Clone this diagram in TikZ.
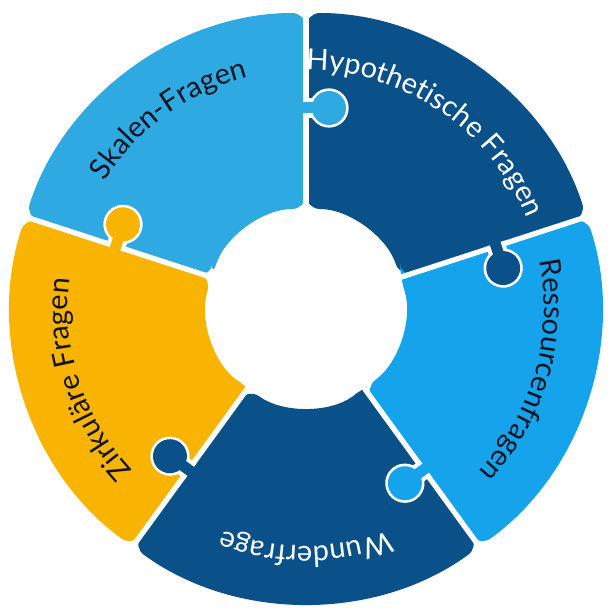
\documentclass[tikz,border=0pt]{standalone}
\usepackage{fontspec}
\setmainfont{Lato}
\usetikzlibrary{decorations.text}
\definecolor{lb}{HTML}{2FA9E2}
\definecolor{db}{HTML}{0B5189}
\definecolor{rb}{HTML}{15A4EB}
\definecolor{og}{HTML}{F8B400}
\definecolor{tx}{HTML}{111522}
\tikzset{gap/.style={white,line width=3pt}}
\newcommand{\seg}[3]{% start, end, colour
  \fill[#3,rounded corners=8pt] (#1:99) -- (#1:295) arc[start angle=#1,end angle=#2,radius=295] -- (#2:99) arc[start angle=#2,end angle=#1,radius=99] -- cycle;}
\newcommand{\knob}[2]{% boundary angle, colour
  \begin{scope}[rotate=#1]
   \draw[gap,fill=#2] (200,-23) circle[radius=17];
   \draw[gap,fill=#2] (193,0) rectangle (207,-12);
   \fill[#2] (200,-23) circle[radius=17];
   \fill[#2] (194.5,5) rectangle (205.5,-12);
  \end{scope}}
\newcommand{\lab}[3]{% mid angle, colour, text
  \path[decorate,decoration={text along path,text align=center,
     text={|\color{#2}\fontsize{16.5}{20}\selectfont|#3}}]
     ({#1+50}:238) arc[start angle={#1+50},end angle={#1-50},radius=238];}
\begin{document}
\begin{tikzpicture}[scale=0.02]
\useasboundingbox (-306,-305) rectangle (307,308);
\seg{162}{90}{lb}
\seg{90}{18}{db}
\seg{18}{-54}{rb}
\seg{-54}{-126}{db}
\seg{-126}{-198}{og}
\fill[white] (0,0) circle[radius=99];
\foreach \a in {162,90,18,-54,-126}
  \draw[gap] (\a:90) -- (\a:300);
\knob{90}{lb}
\knob{18}{db}
\knob{-54}{rb}
\knob{-126}{db}
\knob{162}{og}
\lab{126}{tx}{Skalen-Fragen}
\lab{56}{white}{Hypothetische Fragen}
\lab{-16}{tx}{Ressourcenfragen}
\lab{-90}{white}{Wunderfrage}
\lab{-162}{tx}{Zirkuläre Fragen}
\end{tikzpicture}
\end{document}
